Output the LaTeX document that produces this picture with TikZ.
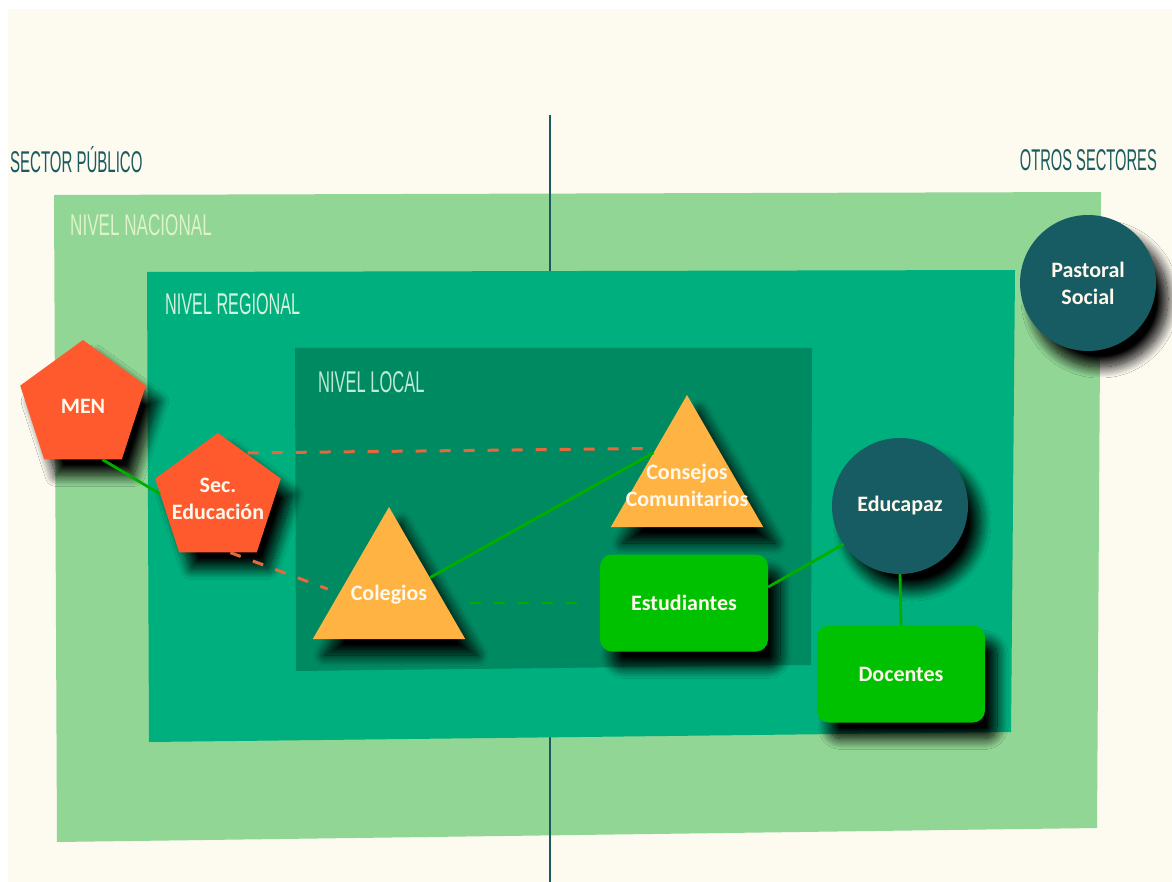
\documentclass[tikz,border=0pt]{standalone}
\usepackage{fontspec}
\setmainfont{Carlito}
\newfontfamily\labfont{Liberation Sans}
\usetikzlibrary{shapes.geometric,shadows.blur,calc}
\definecolor{cream}{HTML}{FDFAF0}
\definecolor{nac}{HTML}{91D694}
\definecolor{reg}{HTML}{00AF7E}
\definecolor{loc}{HTML}{008A62}
\definecolor{pent}{HTML}{FF5A2E}
\definecolor{tri}{HTML}{FFB343}
\definecolor{gbox}{HTML}{00C100}
\definecolor{circ}{HTML}{175C63}
\definecolor{gline}{HTML}{00AE00}
\definecolor{oline}{HTML}{E8683E}
\definecolor{teal}{HTML}{1B5B60}
\definecolor{txt}{HTML}{FFF8EC}
\definecolor{labnac}{HTML}{DDF3C9}
\definecolor{labreg}{HTML}{D5F2DD}
\definecolor{labloc}{HTML}{BDEBD5}
\begin{document}
\begin{tikzpicture}[x=1pt,y=-1pt,
  shad/.style={blur shadow={shadow xshift=12pt, shadow yshift=-16pt, shadow blur radius=11pt, shadow blur steps=20, shadow opacity=100}},
  tlabel/.style={text=txt, font=\bfseries\fontsize{22}{27}\selectfont, align=center},
  pentnode/.style={regular polygon, regular polygon sides=5, minimum size=132pt, inner sep=0pt, fill=pent, shad},
  trinode/.style={regular polygon, regular polygon sides=3, minimum size=176pt, inner sep=0pt, fill=tri, shad},
  boxnode/.style={rounded corners=12pt, minimum width=168pt, minimum height=97pt, fill=gbox, shad, tlabel},
  circnode/.style={circle, minimum size=136pt, inner sep=0pt, fill=circ, shad, tlabel},
  sector/.style={text=teal, font=\labfont\fontsize{30}{30}\selectfont, inner sep=0pt},
  nivel/.style={font=\labfont\fontsize{30}{30}\selectfont, inner sep=0pt, anchor=west},
  gcon/.style={draw=gline, line width=2.8pt},
  ocon/.style={draw=oline, line width=3pt, dash pattern=on 11pt off 13pt},
  gdash/.style={draw=gline, line width=2.8pt, dash pattern=on 11pt off 13pt},
  divider/.style={draw=teal, line width=2.2pt}
]
\useasboundingbox (0,0) rectangle (1172,882);
\fill[white] (0,0) rectangle (1172,882);
\fill[cream] (8,9) rectangle (1172,882);
\fill[nac] (54,195) -- (1101,192) -- (1097,828) -- (57,842) -- cycle;
\draw[divider] (550,115) -- (550,882);
\fill[reg] (147,272) -- (1015,270) -- (1011,732) -- (149,742) -- cycle;
\fill[loc] (295,348) -- (812,348) -- (811,665) -- (296,671) -- cycle;

% sector and level labels
\node[sector, anchor=west] (sp) at (10,160) {\scalebox{0.5}[1]{SECTOR PÚBLICO}};
\node[sector, anchor=east] (os) at (1157,160) {\scalebox{0.49}[1]{OTROS SECTORES}};
\node[nivel, text=labnac] (nn) at (70,225) {\scalebox{0.57}[1]{NIVEL NACIONAL}};
\node[nivel, text=labreg] (nr) at (165,304) {\scalebox{0.54}[1]{NIVEL REGIONAL}};
\node[nivel, text=labloc] (nl) at (318,382) {\scalebox{0.55}[1]{NIVEL LOCAL}};

% nodes
\node[pentnode, label={[tlabel]center:MEN}] (men) at (83,406) {};
\node[pentnode, label={[tlabel]center:{Sec.\\Educación}}] (sec) at (218,499) {};
\node[trinode, label={[tlabel]center:Colegios}] (col) at (389,595) {};
\node[trinode, label={[tlabel, yshift=-2pt]center:{Consejos\\Comunitarios}}] (cons) at (687,483) {};
\node[boxnode] (est) at (684,603) {Estudiantes};
\node[boxnode] (doc) at (901,674) {Docentes};
\node[circnode] (edu) at (900,506) {Educapaz};
\node[circnode] (pas) at (1088,283) {Pastoral\\Social};

% connectors
\draw[gcon] (men.-70) -- (sec.175);
\draw[ocon, shorten <=2pt, shorten >=12pt] (sec.59) -- (cons.132);
\draw[ocon, shorten >=12pt] (sec.-77) -- (col.178);
\draw[gcon] (col.23) -- (cons.138);
\draw[gdash, shorten <=30pt, shorten >=10pt] (col.east |- est.west) -- (est.west);
\draw[gcon] ([yshift=16pt]est.east) -- (edu.214);
\draw[gcon] (edu.south) -- (doc.north);
\end{tikzpicture}
\end{document}
